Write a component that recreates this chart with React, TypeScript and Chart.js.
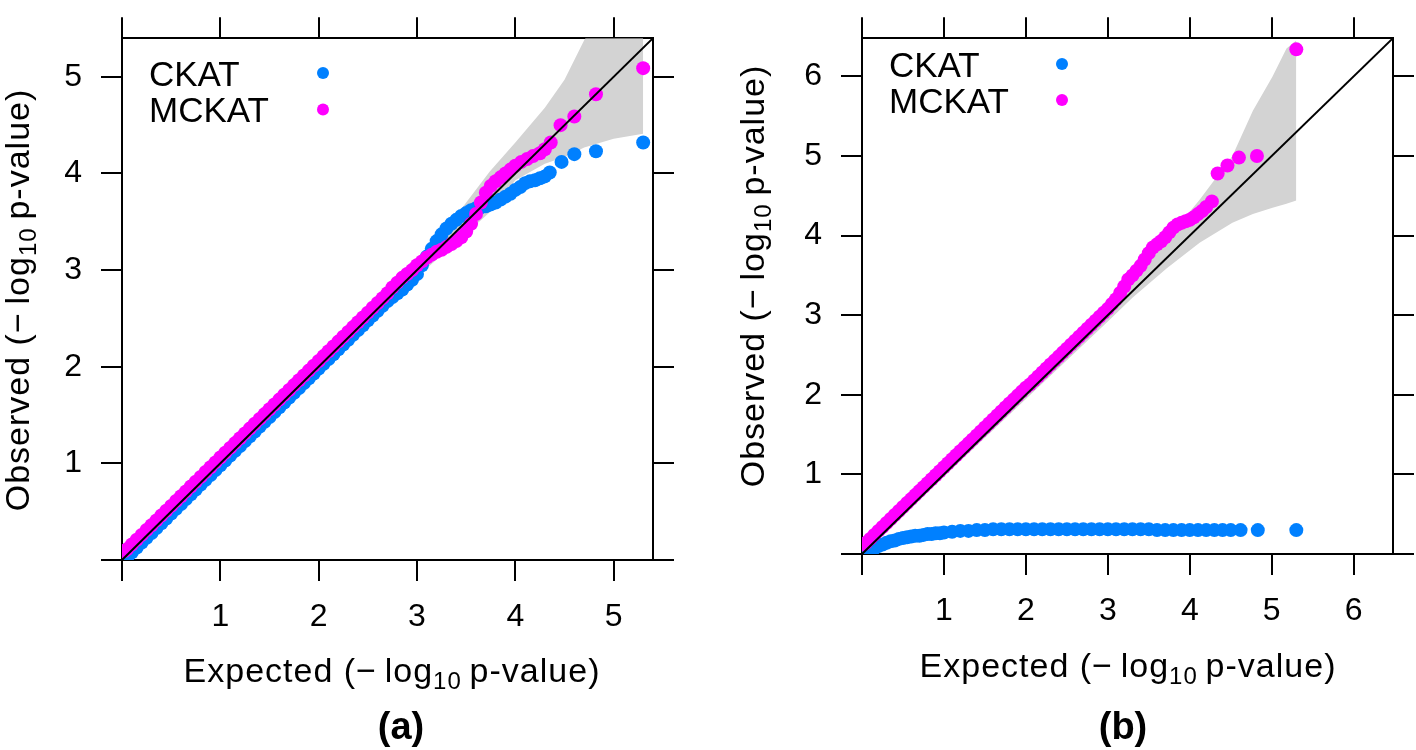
import React, { useEffect, useRef } from 'react';
import { Chart, registerables } from 'chart.js';

Chart.register(...registerables);

const FONT = '"Liberation Sans", Arial, Helvetica, sans-serif';
const BLUE = 'rgb(0,128,255)';
const MAGENTA = 'rgb(255,0,255)';
const BAND = 'rgb(211,211,211)';

// ---------- Panel (a) ----------
const A_AXIS_MAX = 5.4;
const A_DIAG = [0, 5.4];
const A_CKAT_X = [0.06, 0.1, 0.15, 0.2, 0.25, 0.3, 0.35, 0.4, 0.45, 0.5, 0.55, 0.6, 0.65, 0.7, 0.75, 0.8, 0.85, 0.9, 0.95, 1.0, 1.05, 1.1, 1.15, 1.2, 1.25, 1.3, 1.35, 1.4, 1.45, 1.5, 1.55, 1.6, 1.65, 1.7, 1.75, 1.8, 1.85, 1.9, 1.95, 2.0, 2.05, 2.1, 2.15, 2.2, 2.25, 2.3, 2.35, 2.4, 2.45, 2.5, 2.55, 2.6, 2.65, 2.7, 2.75, 2.8, 2.85, 2.9, 2.95, 3.0, 3.05, 3.1, 3.15, 3.2, 3.25, 3.3, 3.35, 3.4, 3.45, 3.5, 3.55, 3.6, 3.65, 3.7, 3.75, 3.8, 3.85, 3.9, 3.95, 4.0, 4.05, 4.1, 4.15, 4.2, 4.25, 4.3, 4.35, 4.47, 4.6, 4.82, 5.3];
const A_CKAT_Y = [0.04, 0.08, 0.13, 0.18, 0.23, 0.28, 0.33, 0.38, 0.43, 0.48, 0.53, 0.58, 0.63, 0.68, 0.73, 0.78, 0.83, 0.88, 0.93, 0.98, 1.03, 1.08, 1.13, 1.18, 1.23, 1.28, 1.33, 1.38, 1.43, 1.48, 1.53, 1.58, 1.63, 1.68, 1.73, 1.78, 1.83, 1.88, 1.93, 1.98, 2.03, 2.08, 2.13, 2.18, 2.23, 2.28, 2.33, 2.38, 2.43, 2.48, 2.53, 2.58, 2.63, 2.68, 2.72, 2.76, 2.8, 2.85, 2.9, 2.96, 3.05, 3.14, 3.22, 3.3, 3.37, 3.43, 3.48, 3.52, 3.56, 3.59, 3.62, 3.64, 3.65, 3.66, 3.68, 3.7, 3.73, 3.76, 3.79, 3.83, 3.86, 3.9, 3.92, 3.93, 3.95, 3.97, 4.01, 4.12, 4.2, 4.23, 4.32];
const A_MCKAT_X = [0.02, 0.05, 0.1, 0.15, 0.2, 0.25, 0.3, 0.35, 0.4, 0.45, 0.5, 0.55, 0.6, 0.65, 0.7, 0.75, 0.8, 0.85, 0.9, 0.95, 1.0, 1.05, 1.1, 1.15, 1.2, 1.25, 1.3, 1.35, 1.4, 1.45, 1.5, 1.55, 1.6, 1.65, 1.7, 1.75, 1.8, 1.85, 1.9, 1.95, 2.0, 2.05, 2.1, 2.15, 2.2, 2.25, 2.3, 2.35, 2.4, 2.45, 2.5, 2.55, 2.6, 2.65, 2.7, 2.75, 2.8, 2.85, 2.9, 2.95, 3.0, 3.05, 3.1, 3.15, 3.2, 3.25, 3.3, 3.35, 3.4, 3.45, 3.5, 3.55, 3.6, 3.65, 3.7, 3.75, 3.8, 3.85, 3.9, 3.95, 4.0, 4.06, 4.12, 4.18, 4.25, 4.3, 4.36, 4.46, 4.6, 4.82, 5.3];
const A_MCKAT_Y = [0.09, 0.11, 0.16, 0.21, 0.26, 0.31, 0.36, 0.41, 0.46, 0.51, 0.56, 0.61, 0.66, 0.71, 0.76, 0.81, 0.86, 0.91, 0.96, 1.01, 1.06, 1.11, 1.16, 1.21, 1.26, 1.31, 1.36, 1.41, 1.46, 1.51, 1.56, 1.61, 1.66, 1.71, 1.76, 1.81, 1.86, 1.91, 1.96, 2.01, 2.06, 2.11, 2.16, 2.21, 2.26, 2.31, 2.36, 2.41, 2.46, 2.51, 2.56, 2.61, 2.66, 2.71, 2.76, 2.82, 2.87, 2.92, 2.96, 3.0, 3.05, 3.09, 3.13, 3.16, 3.19, 3.21, 3.24, 3.27, 3.3, 3.34, 3.4, 3.48, 3.58, 3.7, 3.8, 3.87, 3.92, 3.96, 4.0, 4.04, 4.08, 4.12, 4.15, 4.18, 4.21, 4.25, 4.32, 4.5, 4.59, 4.82, 5.09];
const A_BAND_X = [0, 3.0, 3.3, 3.5, 3.74, 4.0, 4.3, 4.5, 4.7, 5.0, 5.3];
const A_BAND_UPPER = [0, 3.08, 3.42, 3.7, 4.02, 4.32, 4.68, 4.97, 5.38, 5.85, 6.3];
const A_BAND_LOWER = [0, 2.93, 3.2, 3.38, 3.6, 3.93, 4.1, 4.17, 4.27, 4.36, 4.41];

// ---------- Panel (b) ----------
const B_AXIS_MAX = 6.48;
const B_DIAG = [0, 6.48];
const B_CKAT_X = [0.06, 0.1, 0.15, 0.2, 0.25, 0.3, 0.35, 0.4, 0.45, 0.5, 0.55, 0.6, 0.65, 0.7, 0.75, 0.8, 0.85, 0.9, 0.95, 1.0, 1.1, 1.2, 1.3, 1.4, 1.5, 1.6, 1.7, 1.8, 1.9, 2.0, 2.1, 2.2, 2.3, 2.4, 2.5, 2.6, 2.7, 2.8, 2.9, 3.0, 3.1, 3.2, 3.3, 3.4, 3.5, 3.6, 3.7, 3.8, 3.9, 4.0, 4.1, 4.2, 4.3, 4.4, 4.5, 4.62, 4.83, 5.3];
const B_CKAT_Y = [0.01, 0.04, 0.07, 0.1, 0.12, 0.14, 0.16, 0.17, 0.19, 0.2, 0.21, 0.22, 0.23, 0.23, 0.24, 0.25, 0.25, 0.26, 0.26, 0.27, 0.28, 0.29, 0.29, 0.3, 0.3, 0.31, 0.31, 0.31, 0.31, 0.31, 0.31, 0.31, 0.31, 0.31, 0.31, 0.31, 0.31, 0.31, 0.31, 0.31, 0.31, 0.31, 0.31, 0.31, 0.31, 0.3, 0.3, 0.3, 0.3, 0.3, 0.3, 0.3, 0.3, 0.3, 0.3, 0.3, 0.3, 0.3];
const B_MCKAT_X = [0.02, 0.05, 0.1, 0.15, 0.2, 0.25, 0.3, 0.35, 0.4, 0.45, 0.5, 0.55, 0.6, 0.65, 0.7, 0.75, 0.8, 0.85, 0.9, 0.95, 1.0, 1.05, 1.1, 1.15, 1.2, 1.25, 1.3, 1.35, 1.4, 1.45, 1.5, 1.55, 1.6, 1.65, 1.7, 1.75, 1.8, 1.85, 1.9, 1.95, 2.0, 2.05, 2.1, 2.15, 2.2, 2.25, 2.3, 2.35, 2.4, 2.45, 2.5, 2.55, 2.6, 2.65, 2.7, 2.75, 2.8, 2.85, 2.9, 2.95, 3.0, 3.05, 3.1, 3.15, 3.2, 3.25, 3.3, 3.35, 3.4, 3.45, 3.5, 3.55, 3.6, 3.65, 3.7, 3.75, 3.8, 3.85, 3.9, 3.95, 4.0, 4.05, 4.1, 4.15, 4.2, 4.27, 4.34, 4.46, 4.6, 4.82, 5.3];
const B_MCKAT_Y = [0.12, 0.14, 0.19, 0.24, 0.29, 0.34, 0.39, 0.44, 0.49, 0.54, 0.59, 0.64, 0.69, 0.74, 0.79, 0.84, 0.89, 0.94, 0.99, 1.04, 1.09, 1.14, 1.19, 1.24, 1.29, 1.34, 1.39, 1.44, 1.49, 1.54, 1.59, 1.64, 1.69, 1.74, 1.79, 1.84, 1.89, 1.94, 1.99, 2.04, 2.09, 2.13, 2.18, 2.23, 2.28, 2.33, 2.38, 2.43, 2.48, 2.53, 2.58, 2.63, 2.68, 2.73, 2.78, 2.83, 2.88, 2.93, 2.98, 3.03, 3.08, 3.14, 3.2, 3.28, 3.36, 3.45, 3.5, 3.56, 3.62, 3.7, 3.78, 3.85, 3.89, 3.93, 3.98, 4.04, 4.1, 4.14, 4.16, 4.18, 4.2, 4.23, 4.27, 4.31, 4.36, 4.43, 4.78, 4.88, 4.98, 5.0, 6.34];
const B_BAND_X = [0, 3.0, 3.3, 3.72, 4.12, 4.52, 4.77, 5.01, 5.18, 5.3];
const B_BAND_UPPER = [0, 3.1, 3.45, 3.95, 4.45, 5.0, 5.57, 6.0, 6.35, 6.45];
const B_BAND_LOWER = [0, 2.92, 3.22, 3.59, 3.91, 4.16, 4.27, 4.35, 4.4, 4.44];

const LEGEND_LABELS = ['CKAT', 'MCKAT'];

const zip = (xs: number[], ys: number[]) => xs.map((x, i) => ({ x, y: ys[i] }));

type PanelCfg = {
  max: number;
  diag: number[];
  ckatX: number[]; ckatY: number[];
  mckatX: number[]; mckatY: number[];
  bandX: number[]; bandUp: number[]; bandLo: number[];
  box: { left: number; right: number; top: number; bottom: number };
  text: any;
};

const PANEL_A: PanelCfg = {
  max: A_AXIS_MAX, diag: A_DIAG,
  ckatX: A_CKAT_X, ckatY: A_CKAT_Y, mckatX: A_MCKAT_X, mckatY: A_MCKAT_Y,
  bandX: A_BAND_X, bandUp: A_BAND_UPPER, bandLo: A_BAND_LOWER,
  box: { left: 122, right: 55, top: 29, bottom: 190 },
  text: {
    legTextX: 149, legBase1: 86, legBase2: 122, legDotX: 323, legDot1: 73, legDot2: 109.5,
    xTitleCx: 392, xTitleBase: 682, yTitleBx: 29, yTitleCy: 300,
    label: '(a)', labelCx: 401, labelBase: 739,
  },
};

const PANEL_B: PanelCfg = {
  max: B_AXIS_MAX, diag: B_DIAG,
  ckatX: B_CKAT_X, ckatY: B_CKAT_Y, mckatX: B_MCKAT_X, mckatY: B_MCKAT_Y,
  bandX: B_BAND_X, bandUp: B_BAND_UPPER, bandLo: B_BAND_LOWER,
  box: { left: 154, right: 23, top: 23, bottom: 196 },
  text: {
    legTextX: 181, legBase1: 77, legBase2: 113, legDotX: 354, legDot1: 64, legDot2: 100,
    xTitleCx: 420, xTitleBase: 677, yTitleBx: 56, yTitleCy: 276,
    label: '(b)', labelCx: 415, labelBase: 739,
  },
};

function drawLogTitle(ctx: CanvasRenderingContext2D, prefix: string) {
  const parts = [
    { t: prefix + ' (\u2212\u2009log', size: 34, dy: 0 },
    { t: '10', size: 24, dy: 7 },
    { t: '\u2009p-value)', size: 34, dy: 0 },
  ];
  (ctx as any).letterSpacing = '1px';
  let total = 0;
  const widths = parts.map((p) => {
    ctx.font = `${p.size}px ${FONT}`;
    const w = ctx.measureText(p.t).width;
    total += w;
    return w;
  });
  let x = -total / 2;
  parts.forEach((p, i) => {
    ctx.font = `${p.size}px ${FONT}`;
    ctx.fillText(p.t, x, p.dy);
    x += widths[i];
  });
  (ctx as any).letterSpacing = '0px';
}

const textPlugin = {
  id: 'panelText',
  afterDraw(chart: any, _args: any, o: any) {
    const ctx: CanvasRenderingContext2D = chart.ctx;
    ctx.save();
    ctx.fillStyle = '#000';
    ctx.textAlign = 'left';
    ctx.textBaseline = 'alphabetic';
    // legend
    ctx.font = `35px ${FONT}`;
    ctx.fillText(LEGEND_LABELS[0], o.legTextX, o.legBase1);
    ctx.fillText(LEGEND_LABELS[1], o.legTextX, o.legBase2);
    ctx.fillStyle = BLUE;
    ctx.beginPath();
    ctx.arc(o.legDotX, o.legDot1, 6, 0, Math.PI * 2);
    ctx.fill();
    ctx.fillStyle = MAGENTA;
    ctx.beginPath();
    ctx.arc(o.legDotX, o.legDot2, 6, 0, Math.PI * 2);
    ctx.fill();
    ctx.fillStyle = '#000';
    // x title
    ctx.save();
    ctx.translate(o.xTitleCx, o.xTitleBase);
    drawLogTitle(ctx, 'Expected');
    ctx.restore();
    // y title
    ctx.save();
    ctx.translate(o.yTitleBx, o.yTitleCy);
    ctx.rotate(-Math.PI / 2);
    drawLogTitle(ctx, 'Observed');
    ctx.restore();
    // panel label
    ctx.font = `bold 38px ${FONT}`;
    ctx.textAlign = 'center';
    ctx.fillText(o.label, o.labelCx, o.labelBase);
    ctx.restore();
  },
};

function makeConfig(p: PanelCfg): any {
  const grid = { display: true, drawOnChartArea: false, drawTicks: true, tickLength: 21, color: '#000', lineWidth: 2 };
  const border = { display: true, color: '#000', width: 2 };
  const labelTicks = (pad: number) => ({
    stepSize: 1, includeBounds: false, autoSkip: false, maxRotation: 0,
    color: '#000', font: { family: FONT, size: 32 }, padding: pad,
    callback: (v: number) => (v === 0 ? '' : String(v)),
  });
  const hiddenTicks = { stepSize: 1, includeBounds: false, autoSkip: false, display: false };
  return {
    type: 'scatter',
    data: {
      datasets: [
        { label: 'diag', data: zip(p.diag, p.diag), showLine: true, borderColor: '#000', borderWidth: 2, pointRadius: 0, order: 0 },
        { label: LEGEND_LABELS[1], data: zip(p.mckatX, p.mckatY), backgroundColor: MAGENTA, borderWidth: 0, pointRadius: 7, order: 1 },
        { label: LEGEND_LABELS[0], data: zip(p.ckatX, p.ckatY), backgroundColor: BLUE, borderWidth: 0, pointRadius: 7, order: 2 },
        { label: 'upper', data: zip(p.bandX, p.bandUp), showLine: true, borderColor: 'rgba(0,0,0,0)', borderWidth: 0, pointRadius: 0, backgroundColor: BAND, fill: '+1', order: 3 },
        { label: 'lower', data: zip(p.bandX, p.bandLo), showLine: true, borderColor: 'rgba(0,0,0,0)', borderWidth: 0, pointRadius: 0, backgroundColor: BAND, fill: false, order: 4 },
      ],
    },
    options: {
      animation: false,
      responsive: false,
      maintainAspectRatio: false,
      events: [],
      layout: { padding: 0 },
      plugins: { legend: { display: false }, tooltip: { enabled: false }, title: { display: false }, panelText: p.text },
      scales: {
        x: { type: 'linear', position: 'bottom', min: 0, max: p.max, grid, border, ticks: labelTicks(17), afterFit: (s: any) => { s.height = p.box.bottom; } },
        x2: { type: 'linear', axis: 'x', position: 'top', min: 0, max: p.max, grid, border, ticks: hiddenTicks, afterFit: (s: any) => { s.height = p.box.top; } },
        y: { type: 'linear', position: 'left', min: 0, max: p.max, grid, border, ticks: labelTicks(19), afterFit: (s: any) => { s.width = p.box.left; } },
        y2: { type: 'linear', axis: 'y', position: 'right', min: 0, max: p.max, grid, border, ticks: hiddenTicks, afterFit: (s: any) => { s.width = p.box.right; } },
      },
    },
    plugins: [textPlugin],
  };
}

function Panel({ cfg, left }: { cfg: PanelCfg; left: number }) {
  const ref = useRef<HTMLCanvasElement>(null);
  useEffect(() => {
    if (!ref.current) return;
    const chart = new Chart(ref.current, makeConfig(cfg));
    return () => chart.destroy();
  }, [cfg]);
  return (
    <canvas
      ref={ref}
      width={708}
      height={750}
      style={{ position: 'absolute', left, top: 0, width: 708, height: 750 }}
    />
  );
}

export default function App() {
  return (
    <div style={{ position: 'fixed', left: 0, top: 0, width: 1416, height: 750, background: '#fff', overflow: 'hidden' }}>
      <Panel cfg={PANEL_A} left={0} />
      <Panel cfg={PANEL_B} left={708} />
    </div>
  );
}
